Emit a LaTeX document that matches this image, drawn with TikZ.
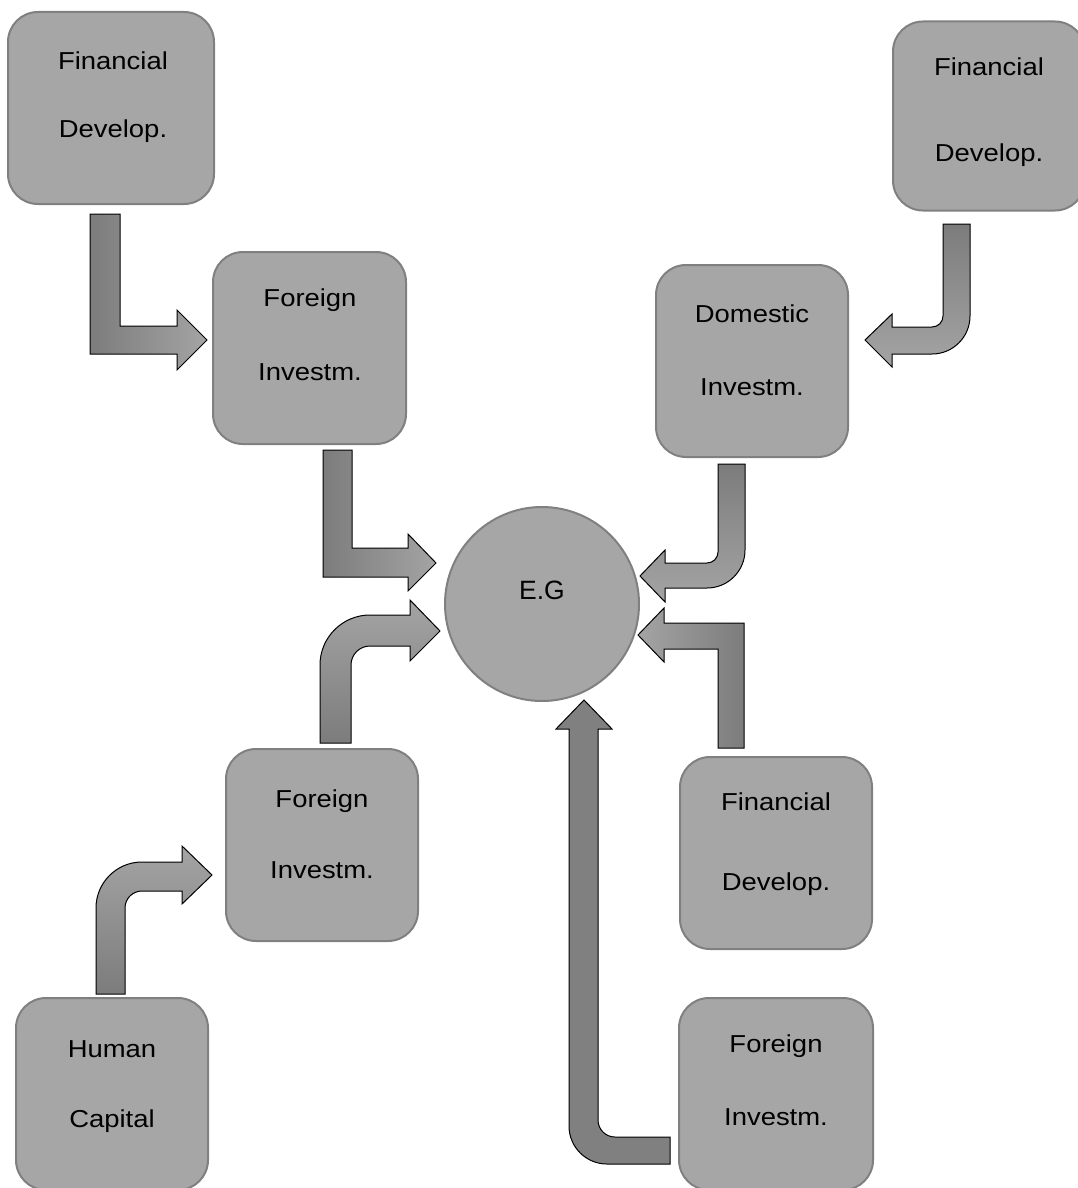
\documentclass[tikz,border=0pt]{standalone}
\usepackage{fontspec}
\setmainfont{Liberation Sans}
\newfontfamily\boxfont{Liberation Sans}[FakeStretch=1.12]
\definecolor{boxfill}{HTML}{A6A6A6}
\definecolor{boxline}{HTML}{808080}
\definecolor{gdark}{HTML}{7C7C7C}
\definecolor{glight}{HTML}{A4A4A4}
\definecolor{gsolid}{HTML}{808080}
\begin{document}
\begin{tikzpicture}[x=1pt,y=-1pt,
  box/.style={draw=boxline, line width=2pt, fill=boxfill, rounded corners=30pt, inner sep=0pt},
  txt/.style={anchor=base, inner sep=0pt, font=\boxfont\fontsize{24.5}{28}\selectfont},
  arr/.style={draw=black, line width=1pt, line join=miter},
  arrLR/.style={arr, left color=gdark, right color=glight},
  arrRL/.style={arr, left color=glight, right color=gdark},
  arrTB/.style={arr, top color=gdark, bottom color=glight},
  arrBT/.style={arr, top color=glight, bottom color=gdark},
  arrS/.style={arr, fill=gsolid}]
\useasboundingbox (0,0) rectangle (1078,1188);
\clip (0,0) rectangle (1078,1188);

% boxes
\node[box, minimum width=206pt, minimum height=192pt] (fd1) at (111,108) {};
\node[box, minimum width=193pt, minimum height=192pt] (fi1) at (309.5,348) {};
\node[box, minimum width=192pt, minimum height=192pt] (di) at (752,361) {};
\node[box, minimum width=192pt, minimum height=189pt] (fd2) at (989,116) {};
\node[box, minimum width=192pt, minimum height=192pt] (fi2) at (322,845) {};
\node[box, minimum width=192pt, minimum height=192pt] (fd3) at (776,853) {};
\node[box, minimum width=192pt, minimum height=192pt] (hc) at (112,1094) {};
\node[box, minimum width=194pt, minimum height=192pt] (fi3) at (776,1094) {};
\node[draw=boxline, line width=2pt, fill=boxfill, circle, minimum size=194pt, inner sep=0pt] (eg) at (542,604) {};

% texts
\node[txt] (fd1a) at (113,70) {Financial};
\node[txt] (fd1b) at (113,137) {Develop.};
\node[txt] (fi1a) at (310,306) {Foreign};
\node[txt] (fi1b) at (310,380) {Investm.};
\node[txt] (dia) at (752,322) {Domestic};
\node[txt] (dib) at (752,395) {Investm.};
\node[txt] (fd2a) at (989,76) {Financial};
\node[txt] (fd2b) at (989,161) {Develop.};
\node[txt] (fi2a) at (322,807) {Foreign};
\node[txt] (fi2b) at (322,878) {Investm.};
\node[txt] (fd3a) at (776,810) {Financial};
\node[txt] (fd3b) at (776,890) {Develop.};
\node[txt] (hca) at (112,1057) {Human};
\node[txt] (hcb) at (112,1127) {Capital};
\node[txt] (fi3a) at (776,1052) {Foreign};
\node[txt] (fi3b) at (776,1125) {Investm.};
\node[anchor=base, inner sep=0pt, font=\fontsize{26.5}{30}\selectfont] (egt) at (542,599) {E.G};

% A1: fd1 -> fi1
\path[arrLR] (90,214) -- (120,214) -- (120,326) -- (177,326) -- (177,310) -- (207,340)
  -- (177,370) -- (177,354) -- (90,354) -- cycle;
% A2: fi1 -> eg
\path[arrLR] (323,450) -- (352,450) -- (352,548) -- (408,548) -- (408,534) -- (436,563)
  -- (408,591) -- (408,577) -- (323,577) -- cycle;
% A3: fi2 -> eg
\path[arrBT] (320,743) -- (320,665) .. controls (320,637.4) and (342.4,615) .. (370,615)
  -- (410,615) -- (410,600) -- (440,631) -- (410,661) -- (410,646) -- (370,646)
  .. controls (359.5,646) and (351,654.5) .. (351,665) -- (351,743) -- cycle;
% A8: hc -> fi2
\path[arrBT] (96,994) -- (96,908) .. controls (96,882.6) and (116.6,862) .. (142,862)
  -- (182,862) -- (182,846) -- (212,875) -- (182,904) -- (182,891) -- (142,891)
  .. controls (132.6,891) and (125,898.6) .. (125,908) -- (125,994) -- cycle;
% A4: di -> eg
\path[arrTB] (718,464) -- (745,464) -- (745,550) .. controls (745,571) and (728,588) .. (707,588)
  -- (665,588) -- (665,602) -- (640,576) -- (665,550) -- (665,563) -- (707,563)
  .. controls (713.1,563) and (718,558.1) .. (718,552) -- cycle;
% A7: fd2 -> di
\path[arrTB] (943,224) -- (970,224) -- (970,316) .. controls (970,337) and (953,354) .. (932,354)
  -- (892,354) -- (892,367) -- (865,340) -- (892,314) -- (892,327) -- (932,327)
  .. controls (938.1,327) and (943,322.1) .. (943,316) -- cycle;
% A5: fd3 -> eg
\path[arrRL] (718,748) -- (744,748) -- (744,623) -- (664,623) -- (664,608) -- (638,635)
  -- (664,662) -- (664,649) -- (718,649) -- cycle;
% A6: fi3 -> eg
\path[arrS] (569,729) -- (556,729) -- (584,700) -- (612,729) -- (598,729) -- (598,1120)
  .. controls (598,1129.4) and (605.6,1137) .. (615,1137) -- (670,1137) -- (670,1164)
  -- (607,1164) .. controls (586,1164) and (569,1147) .. (569,1126) -- cycle;
\end{tikzpicture}
\end{document}
